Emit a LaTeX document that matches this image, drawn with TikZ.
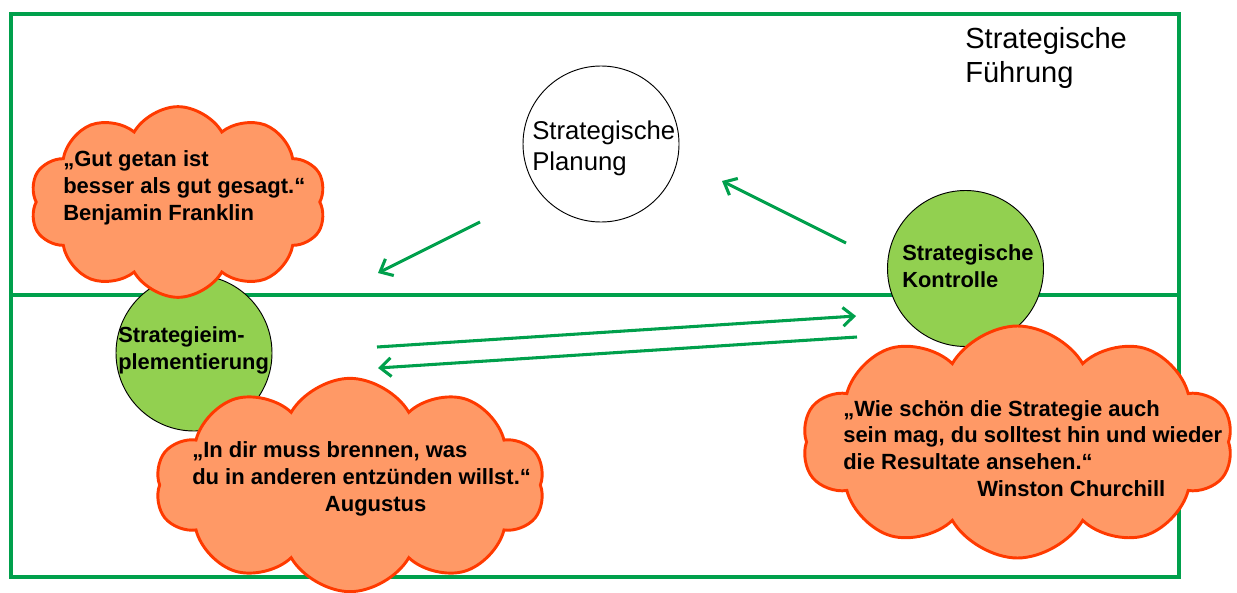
\documentclass[tikz,border=0pt]{standalone}
\usepackage{fontspec}
\setmainfont{Liberation Sans}
\usetikzlibrary{shapes.symbols,arrows.meta}
\definecolor{lineGreen}{HTML}{00A04C}
\definecolor{fillGreen}{HTML}{92D050}
\definecolor{cloudFill}{HTML}{FF9966}
\definecolor{cloudLine}{HTML}{FF3A00}
\tikzset{
  frameline/.style={draw=lineGreen, line width=2.4pt},
  flowarrow/.style={draw=lineGreen, line width=2.3pt, -{Straight Barb[length=8pt,width=14pt,line width=2.3pt]}},
  greenball/.style={circle, draw=black, line width=0.7pt, fill=fillGreen, minimum size=117pt, inner sep=0pt},
  whiteball/.style={circle, draw=black, line width=0.7pt, fill=white, minimum size=117pt, inner sep=0pt},
  thought/.style={cloud, cloud puffs=10, cloud puff arc=120, cloud ignores aspect, draw=cloudLine, fill=cloudFill, line width=2.2pt, inner sep=0pt},
  quote/.style={anchor=base west, align=left, inner sep=0pt, font=\fontsize{16.5}{19.9}\selectfont\bfseries},
  balltext/.style={anchor=base west, align=left, inner sep=0pt, font=\fontsize{16.4}{19.6}\selectfont\bfseries},
}
\begin{document}
\begin{tikzpicture}[x=0.75pt,y=-0.75pt]
\useasboundingbox (0,0) rectangle (1237,592);
% frame
\draw[frameline] (11,14) rectangle (1179,577);
\draw[frameline] (11,295) -- (1179,295);
\node[anchor=base west, align=left, inner sep=0pt, font=\fontsize{21.8}{24.75}\selectfont] (fuehrung) at (965,82) {Strategische\\Führung};
% circles
\node[whiteball] (plan) at (601,144) {};
\node[anchor=base west, align=left, inner sep=0pt, font=\fontsize{19.3}{23.25}\selectfont] (plantext) at (532,170) {Strategische\\Planung};
\node[greenball] (impl) at (194,353) {};
\node[greenball] (kontr) at (965.5,268.5) {};
\node[balltext] (impltext) at (118,369) {Strategieim-\\plementierung};
\node[balltext] (kontrtext) at (902,287) {Strategische\\Kontrolle};
% arrows
\coordinate (a1s) at (480,222); \coordinate (a1e) at (378,273);
\coordinate (a2s) at (846,243); \coordinate (a2e) at (722,181);
\coordinate (a3s) at (377,347); \coordinate (a3e) at (856,316);
\coordinate (a4s) at (857,337); \coordinate (a4e) at (378,368);
\draw[flowarrow] (a1s) -- (a1e);
\draw[flowarrow] (a2s) -- (a2e);
\draw[flowarrow] (a3s) -- (a3e);
\draw[flowarrow] (a4s) -- (a4e);
% clouds
\node[thought, minimum width=222pt, minimum height=143pt] (franklin) at (178,202) {};
\node[quote] (franklintext) at (63,220) {„Gut getan ist\\besser als gut gesagt.“\\Benjamin Franklin};
\node[thought, minimum width=292pt, minimum height=160pt] (augustus) at (350,485) {};
\node[quote] (augustustext) at (192,511) {„In dir muss brennen, was\\du in anderen entzünden willst.“\\\hspace*{99.5pt}Augustus};
\node[thought, minimum width=323pt, minimum height=174pt] (churchill) at (1017.5,442) {};
\node[quote] (churchilltext) at (843,496) {„Wie schön die Strategie auch\\sein mag, du solltest hin und wieder\\die Resultate ansehen.“\\\hspace*{100.5pt}Winston Churchill};
% small mark at bottom right
\draw[draw=lineGreen, line width=2.2pt] (1144,598) arc[start angle=20, end angle=160, radius=12.5];
\end{tikzpicture}
\end{document}
